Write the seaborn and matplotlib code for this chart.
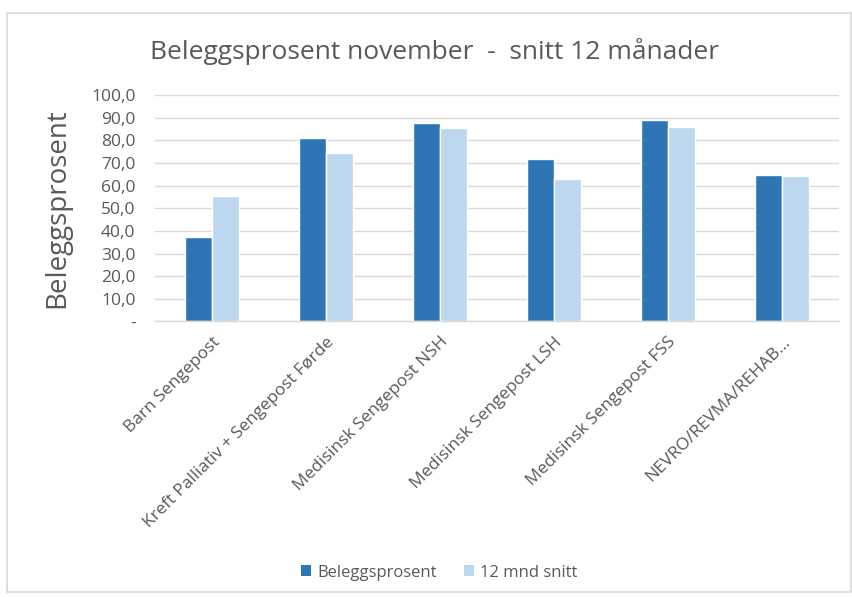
import matplotlib
matplotlib.use('Agg')
import matplotlib.pyplot as plt
from matplotlib.patches import Rectangle, Patch
import pandas as pd
import seaborn as sns

categories = ['Barn Sengepost', 'Kreft Palliativ + Sengepost Førde', 'Medisinsk Sengepost NSH',
              'Medisinsk Sengepost LSH', 'Medisinsk Sengepost FSS', 'NEVRO/REVMA/REHAB...']
beleggsprosent = [37.5, 81.0, 87.6, 71.8, 89.0, 64.8]
snitt_12 = [55.6, 74.2, 85.3, 63.0, 85.8, 64.3]
series = ['Beleggsprosent', '12 mnd snitt']
y_ticks = [0, 10, 20, 30, 40, 50, 60, 70, 80, 90, 100]
y_tick_labels = ['-', '10,0', '20,0', '30,0', '40,0', '50,0', '60,0', '70,0', '80,0', '90,0', '100,0']

df = pd.DataFrame({
    'Avdeling': categories * 2,
    'Serie': [series[0]] * len(categories) + [series[1]] * len(categories),
    'Verdi': beleggsprosent + snitt_12,
})

sns.set_theme(style='white')
plt.rcParams['font.family'] = ['Open Sans', 'DejaVu Sans']
text_col = '#595959'
colors = ['#2E75B6', '#BDD7EE']

fig = plt.figure(figsize=(8.53, 5.97), dpi=100)
ax = fig.add_axes([0.1817, 0.4615, 0.8019, 0.3794])

sns.barplot(data=df, x='Avdeling', y='Verdi', hue='Serie', palette=colors,
            width=0.48, gap=0, ax=ax, legend=False, saturation=1)

ax.set_ylim(0, 100)
ax.set_xlim(-0.5, len(categories) - 0.5)
ax.set_yticks(y_ticks)
ax.set_yticklabels(y_tick_labels, color=text_col, fontsize=12.5)
ax.yaxis.grid(True, color='#D9D9D9', linewidth=1)
ax.set_axisbelow(True)
for s in ['top', 'right', 'left']:
    ax.spines[s].set_visible(False)
ax.spines['bottom'].set_color('#D9D9D9')
ax.spines['bottom'].set_linewidth(1)
ax.tick_params(axis='y', length=0, pad=14)
ax.tick_params(axis='x', length=0, pad=9)
ax.set_xticks(range(len(categories)))
ax.set_xticklabels(categories, rotation=45, ha='right', rotation_mode='anchor',
                   color=text_col, fontsize=12.5)
ax.set_xlabel('')
ax.set_ylabel('Beleggsprosent', color=text_col, fontsize=20, labelpad=14)

fig.text(0.51, 0.913, 'Beleggsprosent november  -  snitt 12 månader', ha='center', va='center',
         color=text_col, fontsize=19)

handles = [Patch(facecolor=c, edgecolor='none') for c in colors]
fig.legend(handles, series, loc='center', bbox_to_anchor=(0.515, 0.041), ncol=2, frameon=False,
           fontsize=12, labelcolor=text_col, handlelength=0.6, handleheight=0.6,
           handletextpad=0.4, columnspacing=1.6)

fig.patches.append(Rectangle((0.008, 0.008), 0.99, 0.97, transform=fig.transFigure,
                             fill=False, edgecolor='#D9D9D9', linewidth=1.2))

fig.savefig('out.png', dpi=100)
